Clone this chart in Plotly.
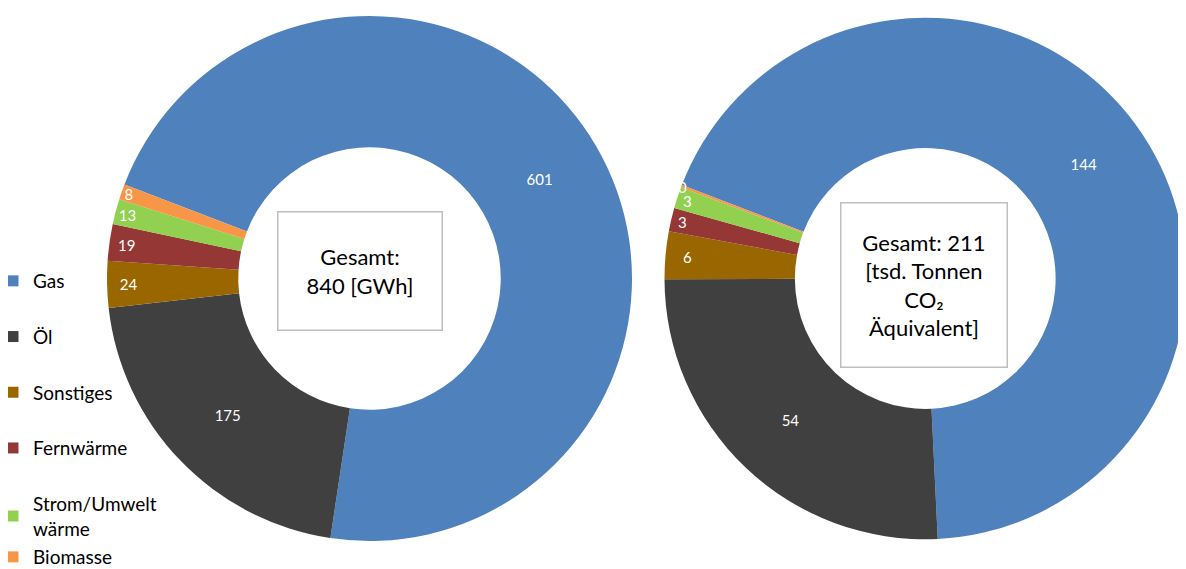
import plotly.graph_objects as go

categories = ["Gas", "Öl", "Sonstiges", "Fernwärme", "Strom/Umwelt<br>wärme", "Biomasse"]
energy_gwh = [601, 175, 24, 19, 13, 8]
co2_kt = [144.4, 54.3, 6.2, 3.1, 2.8, 0.3]
colors = ["#4F81BD", "#404040", "#996600", "#953735", "#92D050", "#F79646"]

energy_box = "Gesamt:<br>840 [GWh]"
co2_box = "Gesamt: 211<br>[tsd. Tonnen<br>CO₂<br>Äquivalent]"

FONT = "Lato, 'Open Sans', sans-serif"
W, H = 1178, 561  # page body keeps its 8px default margin

fig = go.Figure()

pie_style = dict(
    hole=0.5,
    sort=False,
    direction="clockwise",
    rotation=-69,
    marker=dict(colors=colors, line=dict(width=0)),
    textposition="inside",
    insidetextorientation="horizontal",
    texttemplate="%{value:.0f}",
    textfont=dict(color="white", size=15, family=FONT),
    showlegend=False,
)

fig.add_trace(go.Pie(labels=categories, values=energy_gwh,
                     domain=dict(x=[99 / W, 624 / W], y=[1 - 533 / H, 1 - 8 / H]), **pie_style))
fig.add_trace(go.Pie(labels=categories, values=co2_kt,
                     domain=dict(x=[656.5 / W, 1.0], y=[1 - 533 / H, 1 - 8 / H]), **pie_style))

# legend entries (one group each so they can be spaced out);
# the last one sits in a second legend box right under the wrapped entry
for i, (name, col) in enumerate(zip(categories, colors)):
    fig.add_trace(go.Scatter(x=[None], y=[None], mode="markers", name=name,
                             legendgroup=name,
                             legend="legend2" if i == len(categories) - 1 else "legend",
                             marker=dict(symbol="square", size=11, color=col)))

box_style = dict(xref="paper", yref="paper", showarrow=False,
                 xanchor="center", yanchor="middle",
                 bordercolor="#BFBFBF", borderwidth=1.5, bgcolor="white",
                 font=dict(size=22, family=FONT, color="#000000"))
fig.add_annotation(text=energy_box, x=351.5 / W, y=1 - 262.5 / H,
                   width=161, height=115, **box_style)
fig.add_annotation(text=co2_box, x=915.5 / W, y=1 - 276.5 / H,
                   width=163, height=161, **box_style)

legend_style = dict(xanchor="left", yanchor="top", itemclick=False,
                    bgcolor="rgba(0,0,0,0)", font=dict(family=FONT, size=19))
fig.update_layout(
    width=W, height=H,
    margin=dict(l=0, r=0, t=0, b=0, autoexpand=False),
    paper_bgcolor="white", plot_bgcolor="white",
    font=dict(family=FONT, size=19, color="#000000"),
    uniformtext=dict(minsize=15, mode="show"),
    xaxis=dict(visible=False), yaxis=dict(visible=False),
    legend=dict(x=-15 / W, y=1 - 254 / H, tracegroupgap=28, **legend_style),
    legend2=dict(x=-15 / W, y=1 - 530 / H, **legend_style),
)

fig.write_html("out.html")
